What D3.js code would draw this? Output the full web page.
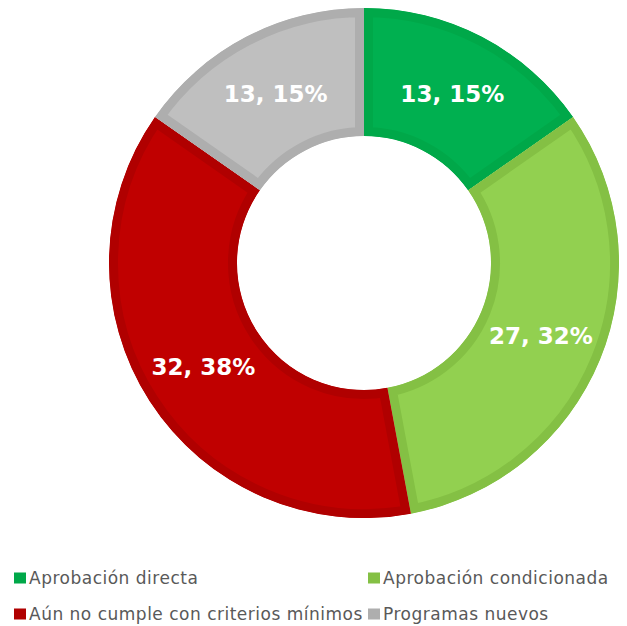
<meta charset="utf-8">
<script src="https://d3js.org/d3.v7.min.js"></script>

<style>
  body { margin: 0; background: #fff; }
</style>

<div id="container"></div>

<script>
var categories = ["Aprobación directa", "Aprobación condicionada", "Aún no cumple con criterios mínimos", "Programas nuevos"];
var values = [13, 27, 32, 13];
var percents = ["15%", "32%", "38%", "15%"];
var fills = ["#00B050", "#92D050", "#C00000", "#BFBFBF"];
var borders = ["#00A849", "#84C044", "#B00000", "#AEAEAE"];

var width = 627, height = 626;
var cx = 364, cy = 263;
var outerR = 255, innerR = 127;

var svg = d3.select("#container").append("svg")
  .attr("width", width)
  .attr("height", height);

var data = categories.map(function (c, i) {
  return { name: c, value: values[i], pct: percents[i], fill: fills[i], border: borders[i] };
});

var pie = d3.pie().sort(null).value(function (d) { return d.value; });
var arc = d3.arc().innerRadius(innerR).outerRadius(outerR);
var arcs = pie(data);

var g = svg.append("g").attr("transform", "translate(" + cx + "," + cy + ")");

// clip paths so the border sits inside each slice
var defs = svg.append("defs");
defs.selectAll("clipPath")
  .data(arcs)
  .enter()
  .append("clipPath")
    .attr("id", function (d, i) { return "clip" + i; })
  .append("path")
    .attr("d", arc);

g.selectAll("path.slice")
  .data(arcs)
  .enter()
  .append("path")
    .attr("class", "slice")
    .attr("d", arc)
    .attr("fill", function (d) { return d.data.fill; })
    .attr("stroke", function (d) { return d.data.border; })
    .attr("stroke-width", 18)
    .attr("clip-path", function (d, i) { return "url(#clip" + i + ")"; });

// labels
g.selectAll("text.lbl")
  .data(arcs)
  .enter()
  .append("text")
    .attr("class", "lbl")
    .attr("transform", function (d) { return "translate(" + arc.centroid(d) + ")"; })
    .attr("text-anchor", "middle")
    .attr("dy", "0.36em")
    .style("font-family", "'DejaVu Sans', sans-serif")
    .style("font-weight", "bold")
    .style("font-size", "23px")
    .style("fill", "#fff")
    .text(function (d) { return d.data.value + ", " + d.data.pct; });

// legend
var legendPos = [[14, 578], [368, 578], [14, 614], [368, 614]];
var legend = svg.selectAll("g.leg")
  .data(data)
  .enter()
  .append("g")
    .attr("class", "leg")
    .attr("transform", function (d, i) { return "translate(" + legendPos[i][0] + "," + legendPos[i][1] + ")"; });

legend.append("rect")
  .attr("x", 0)
  .attr("y", -5.5)
  .attr("width", 12)
  .attr("height", 11)
  .attr("fill", function (d) { return d.border; });

legend.append("text")
  .attr("x", 15)
  .attr("dy", "0.36em")
  .style("font-family", "'DejaVu Sans', sans-serif")
  .style("font-size", "17px")
  .style("letter-spacing", "0.5px")
  .style("fill", "#595959")
  .text(function (d) { return d.name; });
</script>
